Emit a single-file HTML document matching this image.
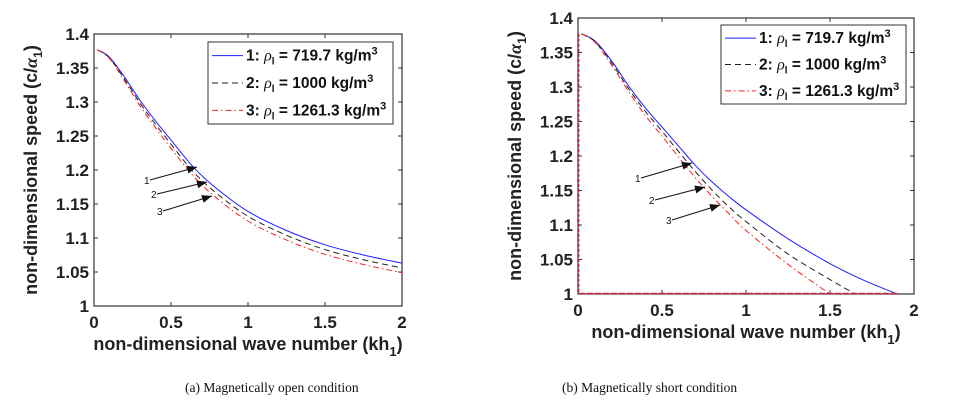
<!DOCTYPE html>
<html><head><meta charset="utf-8"><style>
body{margin:0;background:#fff;width:955px;height:401px;overflow:hidden}
svg{display:block}
.tk{font:bold 17px "Liberation Sans",sans-serif;fill:#222}
.al{font:bold 18px "Liberation Sans",sans-serif;fill:#222}
.lg{font:bold 15.5px "Liberation Sans",sans-serif;fill:#111}
.cap{font:13.5px "Liberation Serif",serif;fill:#111}
.an{font:10px "Liberation Sans",sans-serif;fill:#111}
</style></head><body>
<svg id="s" width="955" height="401"></svg>
<script>
const xTicks=[0,0.5,1,1.5,2];
const xTickLabels=["0","0.5","1","1.5","2"];
const yTicks=[1,1.05,1.1,1.15,1.2,1.25,1.3,1.35,1.4];
const yTickLabels=["1","1.05","1.1","1.15","1.2","1.25","1.3","1.35","1.4"];
const seriesNames=["1","2","3"];
const legendLabels=["719.7","1000","1261.3"];
// open condition
const openX=[0.02,0.1,0.2,0.3,0.4,0.5,0.65,0.8,1.0,1.25,1.5,1.75,2.0];
const open1=[1.377,1.366,1.336,1.302,1.272,1.244,1.203,1.172,1.139,1.111,1.090,1.075,1.063];
const open2=[1.377,1.365,1.333,1.298,1.267,1.238,1.196,1.165,1.132,1.104,1.083,1.068,1.056];
const open3=[1.377,1.364,1.330,1.294,1.262,1.232,1.190,1.158,1.125,1.097,1.076,1.061,1.049];
// short condition
const shortX1=[0.02,0.1,0.2,0.3,0.4,0.5,0.6,0.7,0.8,0.9,1.0,1.25,1.5,1.7,1.9];
const short1=[1.377,1.367,1.338,1.302,1.270,1.242,1.214,1.186,1.162,1.141,1.122,1.080,1.044,1.020,1.0];
const shortX2=[0.02,0.1,0.2,0.3,0.4,0.5,0.6,0.7,0.8,0.9,1.0,1.25,1.5,1.65];
const short2=[1.377,1.366,1.335,1.298,1.265,1.236,1.206,1.177,1.150,1.126,1.105,1.058,1.021,1.0];
const shortX3=[0.02,0.1,0.2,0.3,0.4,0.5,0.6,0.7,0.8,0.9,1.0,1.25,1.5];
const short3=[1.377,1.365,1.332,1.294,1.259,1.229,1.198,1.168,1.141,1.116,1.092,1.043,1.0];
const colors=["#1f1fff","#222","#ff2020"];
const dashes=["","6,4","6,3,1.5,3"];
const NS="http://www.w3.org/2000/svg";
const svg=document.getElementById('s');
function mk(t,a,p){const e=document.createElementNS(NS,t);for(const k in a)e.setAttribute(k,a[k]);(p||svg).appendChild(e);return e;}
function path(xs,ys,sx,sy){const P=xs.map((x,i)=>[sx(x),sy(ys[i])]);let d=`M${P[0][0]},${P[0][1]}`;
for(let i=0;i<P.length-1;i++){const p0=P[Math.max(0,i-1)],p1=P[i],p2=P[i+1],p3=P[Math.min(P.length-1,i+2)];
d+=` C${p1[0]+(p2[0]-p0[0])/6},${p1[1]+(p2[1]-p0[1])/6} ${p2[0]-(p3[0]-p1[0])/6},${p2[1]-(p3[1]-p1[1])/6} ${p2[0]},${p2[1]}`;}return d;}
function panel(cfg){
 const {x0,x1,y0,y1,id}=cfg;
 const g=mk('g',{});
 
 
 const sx=v=>x0+(x1-x0)*v/2, sy=v=>y1-(y1-y0)*(v-1)/0.4;
 mk('rect',{x:x0,y:y0,width:x1-x0,height:y1-y0,fill:'#fff',stroke:'#333','stroke-width':1.2},g);
 xTicks.forEach((t,i)=>{const x=sx(t);mk('line',{x1:x,x2:x,y1:y1,y2:y1-4,stroke:'#333'},g);mk('line',{x1:x,x2:x,y1:y0,y2:y0+4,stroke:'#333'},g);
  const l=mk('text',{x:x,y:y1+22,'text-anchor':'middle',class:'tk'},g);l.textContent=xTickLabels[i];
  
  });
 yTicks.forEach((t,i)=>{const y=sy(t);mk('line',{x1:x0,x2:x0+4,y1:y,y2:y,stroke:'#333'},g);mk('line',{x1:x1,x2:x1-4,y1:y,y2:y,stroke:'#333'},g);
  const l=mk('text',{x:x0-5,y:y+6,'text-anchor':'end',class:'tk'},g);l.textContent=yTickLabels[i];
  
  });
 cfg.series.forEach((s,i)=>{const p=mk('path',{d:path(s[0],s[1],sx,sy),fill:'none',stroke:colors[i],'stroke-width':1,'stroke-dasharray':dashes[i]},g);
  
  });
 if(cfg.short){mk('line',{x1:sx(0.005),x2:sx(0.005),y1:sy(1.377),y2:sy(1),stroke:'#d02040','stroke-width':1.2,'stroke-dasharray':'3,2'},g);
  mk('line',{x1:sx(0.005),x2:sx(1.9),y1:sy(1)-0.5,y2:sy(1)-0.5,stroke:'#d02040','stroke-width':1.4,'stroke-dasharray':'6,2'},g);}
 const xl=mk('text',{x:(x0+x1)/2,y:y1+44,'text-anchor':'middle',class:'al'},g);xl.innerHTML='non-dimensional wave number (kh<tspan dy="6" font-size="13">1</tspan><tspan dy="-6">)</tspan>';
 
 
 const yc=(y0+y1)/2, yx=x0-57;
 const yl=mk('text',{x:yx,y:yc,'text-anchor':'middle',class:'al',transform:`rotate(-90 ${yx} ${yc})`},g);yl.innerHTML='non-dimensional speed (c/<tspan font-style="italic" font-family="Liberation Serif">α</tspan><tspan dy="5" font-size="12">1</tspan><tspan dy="-5">)</tspan>';
 
 
 const L=cfg.leg;const lg=mk('g',{},g);
 
 
 mk('rect',{x:L[0],y:L[1],width:L[2],height:L[3],fill:'#fff',stroke:'#333','stroke-width':1},lg);
 const step=L[3]/3;
 seriesNames.forEach((n,i)=>{const yy=L[1]+step*(i+0.5);
  mk('line',{x1:L[0]+4,x2:L[0]+35,y1:yy,y2:yy,stroke:colors[i],'stroke-width':1,'stroke-dasharray':dashes[i]},lg);
  const t=mk('text',{x:L[0]+38,y:yy+5,class:'lg'},lg);
  t.innerHTML=n+': <tspan font-family="Liberation Serif" font-style="italic" font-weight="normal" font-size="16">ρ</tspan><tspan dy="4" font-size="10">l</tspan><tspan dy="-4"> = '+legendLabels[i]+' kg/m</tspan><tspan dy="-6" font-size="11">3</tspan>';
  
  });
 cfg.arrows.forEach((a,i)=>{mk('line',{x1:a[0],y1:a[1],x2:a[2],y2:a[3],stroke:'#111','stroke-width':1},g);
  const ang=Math.atan2(a[3]-a[1],a[2]-a[0]),L2=10,W=4;
  const bx=a[2]-L2*Math.cos(ang),by=a[3]-L2*Math.sin(ang);
  mk('polygon',{points:`${a[2]},${a[3]} ${bx+W*Math.sin(ang)},${by-W*Math.cos(ang)} ${bx-W*Math.sin(ang)},${by+W*Math.cos(ang)}`,fill:'#111'},g);
  const t=mk('text',{x:a[0]-6,y:a[1]+4,class:'an'},g);t.textContent=seriesNames[i];
  
  });
 const c=mk('text',{x:cfg.cap[0],y:cfg.cap[1],class:'cap'},g);c.textContent=cfg.capText;
 
 
}
panel({id:'open',x0:94,x1:402,y0:34,y1:306,series:[[openX,open1],[openX,open2],[openX,open3]],leg:[208,42,185,82],
 arrows:[[150,180,197,167],[157,194,207,182],[163,211,212,196]],cap:[185,392],capText:'(a)  Magnetically open condition'});
panel({id:'short',x0:578,x1:914,y0:18,y1:294,short:true,series:[[shortX1,short1],[shortX2,short2],[shortX3,short3]],leg:[721,25,185,79],
 arrows:[[641,178,692,163],[655,200,705,187],[672,220,720,205]],cap:[562,392],capText:'(b)  Magnetically short condition'});
</script>
</body></html>
